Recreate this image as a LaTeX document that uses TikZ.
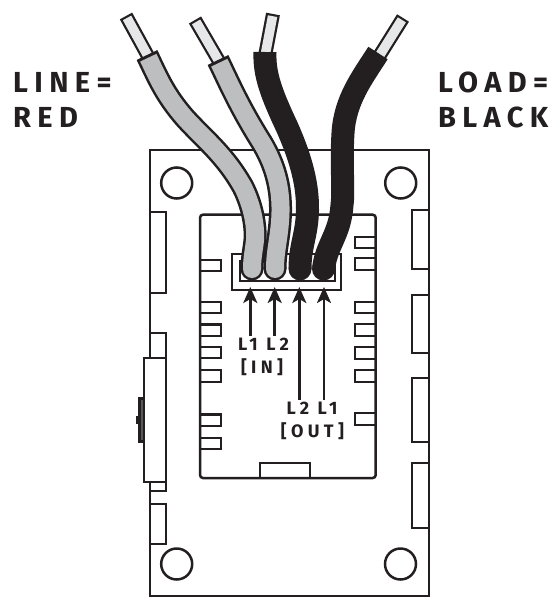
\documentclass[tikz,border=0pt]{standalone}
\usepackage{fontspec}
\usetikzlibrary{arrows.meta}
\newfontfamily\biglbl[LetterSpace=22]{Fira Sans}
\newfontfamily\smlbl[LetterSpace=24]{Fira Sans}
\definecolor{ink}{HTML}{231F20}
\definecolor{sheath}{HTML}{BCBEC0}
\definecolor{copper}{HTML}{E6E7E8}
\tikzset{
  x=1pt,y=-1pt,
  board/.style={draw=ink,line width=2.5pt,fill=white,line join=miter},
  tabbox/.style={draw=ink,line width=2.5pt,line join=miter},
  hole/.style={draw=ink,line width=2.5pt,fill=white},
  bigtext/.style={font=\biglbl\bfseries\fontsize{29}{32}\selectfont,text=ink,inner sep=0pt,anchor=west},
  smalltext/.style={font=\smlbl\bfseries\fontsize{18}{20}\selectfont,text=ink,inner sep=0pt},
  pointer/.style={draw=ink,line width=2.5pt,-{Stealth[length=16pt,width=14pt,inset=4pt]}},
}
\newcommand{\wirepath}[1]{%
  \draw[ink,line width=14pt] #1;
  \draw[copper,line width=9.5pt,shorten <=2.2pt] #1;
}
\begin{document}
\begin{tikzpicture}
\useasboundingbox (0,0) rectangle (554,599);
% board
\draw[board] (150,150) rectangle (429,596);
\node[circle,hole,minimum size=31pt,inner sep=0pt] (h1) at (176.7,183) {};
\node[circle,hole,minimum size=31pt,inner sep=0pt] (h2) at (400.7,183) {};
\node[circle,hole,minimum size=31pt,inner sep=0pt] (h3) at (176.7,564) {};
\node[circle,hole,minimum size=31pt,inner sep=0pt] (h4) at (400.5,564) {};
% right outer tabs
\foreach \a/\b in {210/269,295/353,378/442,463/528}
  \draw[tabbox] (429,\a) -- (412,\a) -- (412,\b) -- (429,\b);
% left outer tabs
\foreach \a/\b in {212/293,333/491,504/544}
  \draw[tabbox] (150,\a) -- (166,\a) -- (166,\b) -- (150,\b);
% switch
\fill[ink] (138,397) rectangle (144,443);
\fill[ink!75] (140.5,400) rectangle (143,440);
\fill[ink] (135.5,416) rectangle (138,424);
\draw[board] (144,358) rectangle (166,482);
% inner module
\draw[board,rounded corners=3pt] (200,214.7) rectangle (375.7,478);
\foreach \a/\b in {260/271,302/313,324.5/336,347/358,370/382,414.5/426,438/449}
  \draw[tabbox] (200,\a) -- (221,\a) -- (221,\b) -- (200,\b);
\foreach \a/\b in {237/248,258/270,302/313,324/336,347/359,370/382,413/425}
  \draw[tabbox] (375.7,\a) -- (355,\a) -- (355,\b) -- (375.7,\b);
\draw[tabbox] (260,478) -- (260,463) -- (310,463) -- (310,478);
% connector
\draw[board] (232,254) rectangle (341,290);
\draw[tabbox] (240,260) -- (240,281) -- (335,281) -- (335,260);
% wires: far right first
\wirepath{(403,18) -- (378,58)}
\draw[ink,line width=23pt] (378,53) .. controls (362,78) and (345,100) .. (343,133) .. controls (341,165) and (344,190) .. (342,205) .. controls (340,235) and (326,245) .. (323.5,269);
\fill[ink] (323.5,269) circle[radius=11.5];
\wirepath{(273,14) -- (265,56)}
\draw[ink,line width=23pt] (265,52) .. controls (264,75) and (272,95) .. (287,127) .. controls (298,152) and (308,180) .. (307.5,210) .. controls (307,235) and (300,245) .. (300,269);
\fill[ink] (300,269) circle[radius=11.5];
\wirepath{(195,20) -- (220,63)}
\draw[ink,line width=23pt] (218,60) .. controls (230,85) and (240,108) .. (262,143) .. controls (275,165) and (281,187) .. (280.5,212) .. controls (280,235) and (275,250) .. (275,269);
\fill[ink] (275,269) circle[radius=11.5];
\draw[sheath,line width=18pt,shorten <=3pt] (218,60) .. controls (230,85) and (240,108) .. (262,143) .. controls (275,165) and (281,187) .. (280.5,212) .. controls (280,235) and (275,250) .. (275,269);
\fill[sheath] (275,269) circle[radius=9];
\wirepath{(126,16) -- (149,58)}
\draw[ink,line width=23pt] (147,55) .. controls (158,78) and (165,95) .. (185,118) .. controls (205,140) and (225,155) .. (243,187) .. controls (252,205) and (256,225) .. (255,240) .. controls (254,250) and (252,258) .. (252,269);
\fill[ink] (252,269) circle[radius=11.5];
\draw[sheath,line width=18pt,shorten <=3pt] (147,55) .. controls (158,78) and (165,95) .. (185,118) .. controls (205,140) and (225,155) .. (243,187) .. controls (252,205) and (256,225) .. (255,240) .. controls (254,250) and (252,258) .. (252,269);
\fill[sheath] (252,269) circle[radius=9];
% labels
\node[bigtext] (line) at (13,82) {LINE=};
\node[bigtext] (red) at (13,117) {RED};
\node[bigtext] (load) at (438,82) {LOAD=};
\node[bigtext] (black) at (438,117) {BLACK};
\node[smalltext] (inA) at (263.5,344) {L1 L2};
\node[smalltext] (inB) at (262,367) {[IN]};
\node[smalltext] (outA) at (312,408) {L2 L1};
\node[smalltext] (outB) at (312.5,431) {[OUT]};
% arrows
\coordinate (t1) at (250.3,287);
\coordinate (t2) at (274.7,287);
\coordinate (t3) at (299.3,287);
\coordinate (t4) at (324,287);
\draw[pointer] (t1 |- inA.north) ++(0,-2) -- (t1);
\draw[pointer] (t2 |- inA.north) ++(0,-2) -- (t2);
\draw[pointer] (t3 |- outA.north) ++(0,-2) -- (t3);
\draw[pointer] (t4 |- outA.north) ++(0,-2) -- (t4);
\end{tikzpicture}
\end{document}
